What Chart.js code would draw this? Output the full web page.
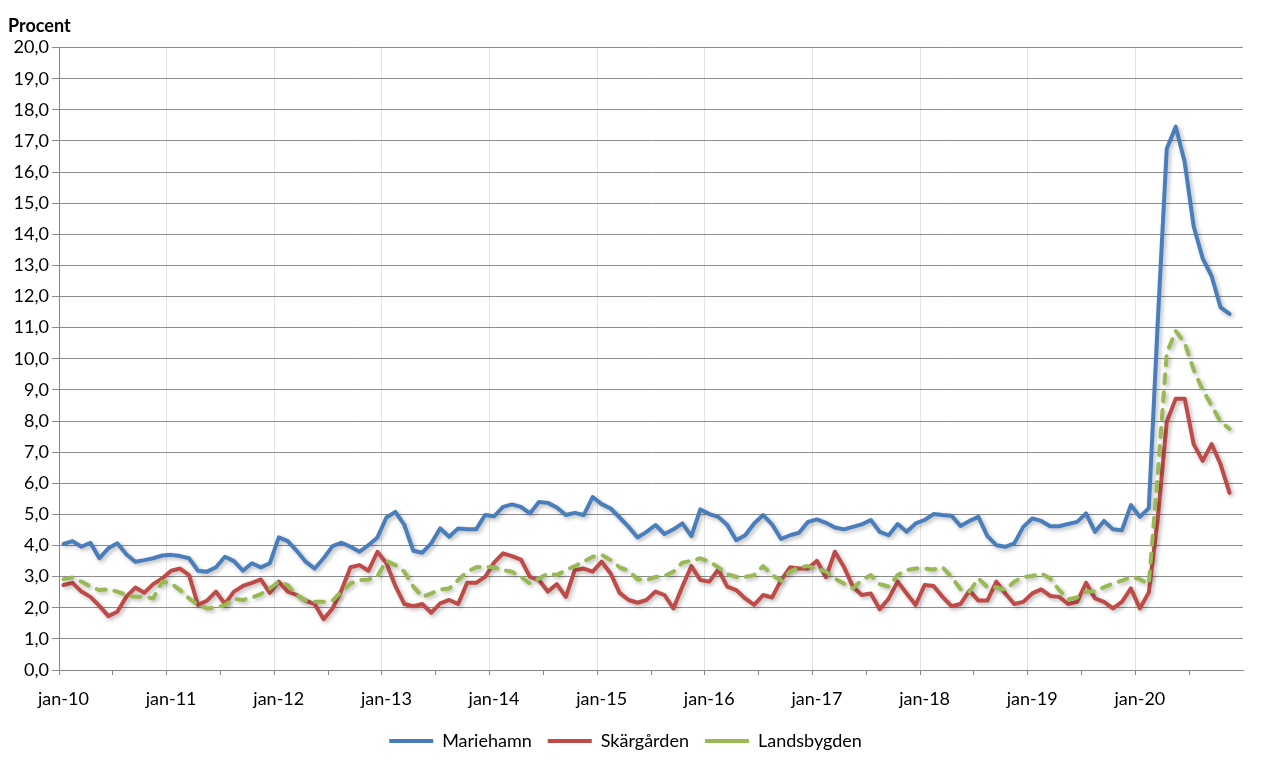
<!DOCTYPE html>
<html>
<head>
<meta charset="utf-8">
<script src="https://cdn.jsdelivr.net/npm/chart.js@4.4.1/dist/chart.umd.min.js"></script>
<style>
html, body { margin: 0; padding: 0; background: #fff; }
#wrap { width: 1265px; height: 769px; position: relative; }
</style>
</head>
<body>
<div id="wrap"><canvas id="chart"></canvas></div>
<script>
// Month names and years used to build the category labels
const month_names = ['jan', 'feb', 'mar', 'apr', 'maj', 'jun', 'jul', 'aug', 'sep', 'okt', 'nov', 'dec'];
const years = ['10', '11', '12', '13', '14', '15', '16', '17', '18', '19', '20'];

let categories = [];
years.forEach(y => {
    month_names.forEach(m => categories.push(m + '-' + y));
});

// Percent per month, jan-10 .. nov-20 (dec-20 missing)
const mariehamn = [
    4.05, 4.14, 3.96, 4.09, 3.59, 3.91, 4.07, 3.72, 3.48, 3.53, 3.59, 3.68,
    3.70, 3.66, 3.59, 3.19, 3.16, 3.30, 3.64, 3.50, 3.19, 3.43, 3.30, 3.43,
    4.26, 4.14, 3.83, 3.48, 3.26, 3.59, 3.98, 4.09, 3.96, 3.80, 4.01, 4.26,
    4.90, 5.08, 4.66, 3.83, 3.77, 4.07, 4.55, 4.28, 4.55, 4.52, 4.52, 4.98,
    4.94, 5.24, 5.32, 5.24, 5.03, 5.40, 5.37, 5.22, 4.98, 5.05, 4.98, 5.56,
    5.33, 5.19, 4.90, 4.60, 4.26, 4.44, 4.66, 4.37, 4.52, 4.71, 4.30, 5.16,
    5.01, 4.92, 4.66, 4.17, 4.33, 4.71, 4.98, 4.68, 4.21, 4.33, 4.41, 4.76,
    4.84, 4.73, 4.58, 4.52, 4.60, 4.68, 4.82, 4.44, 4.33, 4.69, 4.44, 4.71,
    4.82, 5.01, 4.98, 4.96, 4.63, 4.79, 4.92, 4.30, 4.01, 3.96, 4.07, 4.60,
    4.87, 4.79, 4.62, 4.62, 4.69, 4.76, 5.03, 4.44, 4.79, 4.52, 4.49, 5.30,
    4.92, 5.20, 11.2, 16.75, 17.46, 16.32, 14.26, 13.23, 12.66, 11.65, 11.44, null
];
const skargarden = [
    2.73, 2.80, 2.52, 2.35, 2.06, 1.73, 1.87, 2.35, 2.65, 2.48, 2.76, 2.94,
    3.19, 3.26, 3.05, 2.09, 2.23, 2.52, 2.12, 2.52, 2.70, 2.80, 2.91, 2.48,
    2.84, 2.52, 2.41, 2.23, 2.12, 1.63, 1.98, 2.57, 3.30, 3.37, 3.19, 3.80,
    3.43, 2.70, 2.12, 2.05, 2.12, 1.84, 2.14, 2.25, 2.12, 2.80, 2.80, 2.99,
    3.45, 3.75, 3.66, 3.55, 2.99, 2.89, 2.52, 2.76, 2.35, 3.21, 3.26, 3.16,
    3.48, 3.10, 2.48, 2.25, 2.16, 2.25, 2.52, 2.41, 1.98, 2.68, 3.34, 2.89,
    2.84, 3.23, 2.68, 2.57, 2.30, 2.09, 2.41, 2.33, 2.89, 3.30, 3.26, 3.26,
    3.51, 2.98, 3.80, 3.32, 2.68, 2.41, 2.46, 1.95, 2.30, 2.84, 2.46, 2.09,
    2.73, 2.70, 2.35, 2.05, 2.12, 2.55, 2.23, 2.23, 2.84, 2.46, 2.12, 2.19,
    2.46, 2.59, 2.38, 2.35, 2.12, 2.19, 2.80, 2.30, 2.19, 1.98, 2.19, 2.62,
    1.98, 2.49, 4.87, 7.97, 8.72, 8.72, 7.26, 6.72, 7.26, 6.61, 5.69, null
];
const landsbygden = [
    2.92, 2.97, 2.84, 2.68, 2.57, 2.59, 2.52, 2.41, 2.35, 2.35, 2.30, 2.84,
    2.78, 2.57, 2.30, 2.09, 1.98, 2.00, 2.09, 2.28, 2.25, 2.33, 2.44, 2.62,
    2.84, 2.73, 2.41, 2.23, 2.19, 2.19, 2.23, 2.52, 2.78, 2.89, 2.91, 3.02,
    3.51, 3.37, 3.16, 2.68, 2.35, 2.46, 2.59, 2.62, 2.89, 3.16, 3.30, 3.32,
    3.30, 3.21, 3.16, 2.99, 2.78, 2.94, 3.10, 3.05, 3.21, 3.34, 3.48, 3.64,
    3.70, 3.53, 3.30, 3.19, 2.91, 2.89, 2.99, 3.02, 3.16, 3.45, 3.51, 3.59,
    3.48, 3.30, 3.08, 2.99, 2.99, 3.05, 3.34, 3.05, 2.87, 3.16, 3.30, 3.34,
    3.26, 3.16, 2.94, 2.78, 2.62, 2.89, 3.05, 2.76, 2.68, 3.05, 3.21, 3.26,
    3.26, 3.23, 3.30, 2.99, 2.60, 2.52, 2.94, 2.66, 2.66, 2.57, 2.84, 2.99,
    3.02, 3.10, 2.94, 2.57, 2.27, 2.33, 2.52, 2.52, 2.66, 2.78, 2.87, 2.99,
    2.92, 2.76, 6.30, 10.19, 10.89, 10.51, 9.65, 9.00, 8.50, 7.97, 7.75, null
];

const font_family = 'Lato, "Noto Sans", sans-serif';
Chart.defaults.font.family = font_family;
Chart.defaults.font.size = 18;
Chart.defaults.color = '#000';

// soft shadow under the lines, like the original
const line_shadow = {
    id: 'line_shadow',
    beforeDatasetDraw(chart) {
        const ctx = chart.ctx;
        ctx.save();
        ctx.shadowColor = 'rgba(0,0,0,0.28)';
        ctx.shadowBlur = 4;
        ctx.shadowOffsetX = 2;
        ctx.shadowOffsetY = 2;
    },
    afterDatasetDraw(chart) {
        chart.ctx.restore();
    }
};

let chart_canvas = document.getElementById('chart');

let chart = new Chart(chart_canvas, {
    type: 'line',
    data: {
        labels: categories,
        datasets: [{
            label: 'Mariehamn',
            data: mariehamn,
            borderColor: '#4A7EBB',
            backgroundColor: '#4A7EBB',
            borderWidth: 4,
            pointRadius: 0,
            pointStyle: 'line',
            borderJoinStyle: 'round',
            borderCapStyle: 'round',
            order: 2
        }, {
            label: 'Skärgården',
            data: skargarden,
            borderColor: '#BE4B48',
            backgroundColor: '#BE4B48',
            borderWidth: 4,
            pointRadius: 0,
            pointStyle: 'line',
            borderJoinStyle: 'round',
            borderCapStyle: 'round',
            order: 1
        }, {
            label: 'Landsbygden',
            data: landsbygden,
            borderColor: '#98B954',
            backgroundColor: '#98B954',
            borderWidth: 4,
            borderDash: [9, 9],
            pointRadius: 0,
            pointStyle: 'line',
            borderJoinStyle: 'round',
            borderCapStyle: 'round',
            order: 0
        }]
    },
    options: {
        responsive: true,
        maintainAspectRatio: false,
        animation: false,
        layout: { padding: { left: 8, right: 22, top: 0, bottom: 9 } },
        plugins: {
            title: {
                display: true,
                text: 'Procent',
                align: 'start',
                font: { weight: 'bold', size: 18 },
                padding: { top: 15, bottom: 11 }
            },
            legend: {
                position: 'bottom',
                labels: {
                    usePointStyle: true,
                    pointStyleWidth: 44,
                    boxHeight: 12,
                    padding: 16,
                    font: { size: 18 },
                    sort: (a, b) => a.datasetIndex - b.datasetIndex
                }
            },
            tooltip: { enabled: false }
        },
        scales: {
            x: {
                offset: true,
                afterFit: scale => { scale.height = 46; },
                grid: {
                    offset: true,
                    drawTicks: true,
                    tickLength: 5,
                    color: ctx => (ctx.index % 12 === 0 ? '#e3e3e3' : 'rgba(0,0,0,0)'),
                    tickColor: ctx => (ctx.index % 6 === 0 ? '#868686' : 'rgba(0,0,0,0)')
                },
                border: { color: '#868686', width: 1 },
                ticks: {
                    autoSkip: false,
                    maxRotation: 0,
                    padding: 13,
                    callback: function (value, index) {
                        return index % 12 === 0 ? this.getLabelForValue(value) : '';
                    }
                }
            },
            y: {
                min: 0,
                max: 20,
                afterFit: scale => { scale.width = 51; },
                grid: {
                    color: '#8c8c8c',
                    tickLength: 7,
                    tickColor: '#8c8c8c'
                },
                border: { color: '#868686', width: 1 },
                ticks: {
                    stepSize: 1,
                    padding: 3,
                    callback: value => value.toFixed(1).replace('.', ',')
                }
            }
        }
    },
    plugins: [line_shadow]
});
</script>
</body>
</html>
